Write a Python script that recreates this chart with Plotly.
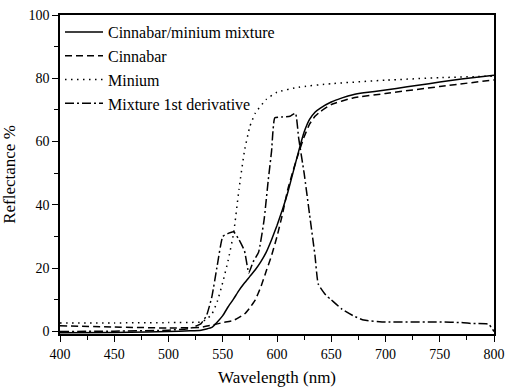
import plotly.graph_objects as go

# Wavelength grid (nm) for each spectrum
wl_mix = [400, 450, 480, 500, 520, 530, 540, 545, 550, 555, 560, 565, 570, 575, 580, 585,
          590, 595, 600, 605, 610, 615, 620, 625, 630, 635, 640, 650, 660, 670, 680, 700,
          720, 740, 760, 780, 800]
refl_mix = [-0.4, -0.3, -0.2, 0.0, 0.2, 0.4, 1.3, 3.0, 5.0, 7.8, 10.3, 13.0, 15.3, 17.4, 19.5, 22.0,
            25.0, 29.0, 33.5, 38.5, 44.0, 50.5, 57.0, 63.0, 67.0, 69.3, 70.6, 72.5, 73.8, 74.8, 75.4, 76.3,
            77.3, 78.3, 79.3, 80.2, 81.0]

wl_cin = [400, 450, 500, 530, 540, 550, 560, 570, 575, 580, 585, 590, 595, 600, 605, 610,
          615, 620, 625, 630, 635, 640, 650, 670, 700, 750, 800]
refl_cin = [1.8, 1.4, 1.1, 1.3, 2.0, 2.8, 3.5, 5.5, 7.5, 10.0, 14.0, 19.0, 24.0, 30.0, 37.0, 45.0,
            51.0, 56.5, 61.5, 65.5, 68.0, 69.5, 71.7, 73.8, 75.2, 77.4, 79.5]

wl_min = [400, 450, 500, 530, 535, 540, 545, 550, 555, 560, 565, 570, 575, 580, 590, 600,
          620, 650, 700, 750, 800]
refl_min = [2.7, 2.7, 2.8, 3.0, 3.8, 5.5, 9.5, 15.5, 22.5, 31.0, 45.0, 57.0, 64.8, 69.0, 73.3, 75.6,
            77.2, 78.3, 79.4, 80.2, 80.7]

wl_der = [400, 450, 500, 520, 530, 535, 540, 545, 550, 555, 560, 565, 570, 574, 578, 583,
          588, 592, 595, 598, 605, 612, 617, 620, 625, 630, 635, 638, 645, 650, 660, 670,
          680, 700, 750, 770, 780, 795, 800]
refl_der = [0.0, 0.1, 0.4, 1.0, 2.5, 5.0, 11.0, 21.0, 30.0, 31.0, 31.5, 29.0, 25.5, 18.5, 22.0, 25.0,
            35.0, 48.0, 57.0, 67.5, 67.8, 68.0, 69.0, 61.0, 50.0, 37.0, 24.0, 15.0, 11.5, 10.0, 7.0, 5.0,
            3.6, 3.0, 3.0, 2.8, 2.5, 2.3, 0.0]

series = [
    ("Cinnabar/minium mixture", wl_mix, refl_mix, "solid"),
    ("Cinnabar", wl_cin, refl_cin, "7px,4px"),
    ("Minium", wl_min, refl_min, "1.5px,4.5px"),
    ("Mixture 1st derivative", wl_der, refl_der, "9px,3px,2px,3px"),
]

fig = go.Figure()
for name, x, y, dash in series:
    fig.add_trace(go.Scatter(
        x=x, y=y, name=name, mode="lines",
        line=dict(color="black", width=1.5, dash=dash, shape="spline", smoothing=0.4),
    ))

SERIF = "Liberation Serif, DejaVu Serif, serif"

fig.update_layout(
    font=dict(family=SERIF, size=14, color="black"),
    width=506, height=387,
    margin=dict(l=60, r=12, t=15, b=53),
    paper_bgcolor="white", plot_bgcolor="white",
    showlegend=True,
    legend=dict(
        x=0.0, y=1.0, xanchor="left", yanchor="top",
        bgcolor="rgba(0,0,0,0)", borderwidth=0,
        font=dict(family=SERIF, size=16, color="black"),
        tracegroupgap=0, itemwidth=38,
    ),
)

for ax, extra in (
    (fig.update_xaxes, dict(
        range=[400, 800], tickvals=[400, 450, 500, 550, 600, 650, 700, 750, 800],
        minor=dict(ticks="outside", ticklen=4, tickwidth=1.2, tickcolor="black", dtick=25, tick0=400),
        title=dict(text="Wavelength (nm)", font=dict(family=SERIF, size=17, color="black"), standoff=14),
    )),
    (fig.update_yaxes, dict(
        range=[-0.8, 100], tickvals=[0, 20, 40, 60, 80, 100],
        minor=dict(ticks="outside", ticklen=4, tickwidth=1.2, tickcolor="black", dtick=10, tick0=0),
        title=dict(text="Reflectance %", font=dict(family=SERIF, size=17, color="black"), standoff=10),
    )),
):
    ax(
        showline=True, linecolor="black", linewidth=1.5, mirror=True,
        showgrid=False, zeroline=False, automargin=False,
        ticks="outside", ticklen=6, tickwidth=1.2, tickcolor="black",
        tickfont=dict(family=SERIF, size=14, color="black"),
        **extra,
    )

fig.write_html("out.html")
